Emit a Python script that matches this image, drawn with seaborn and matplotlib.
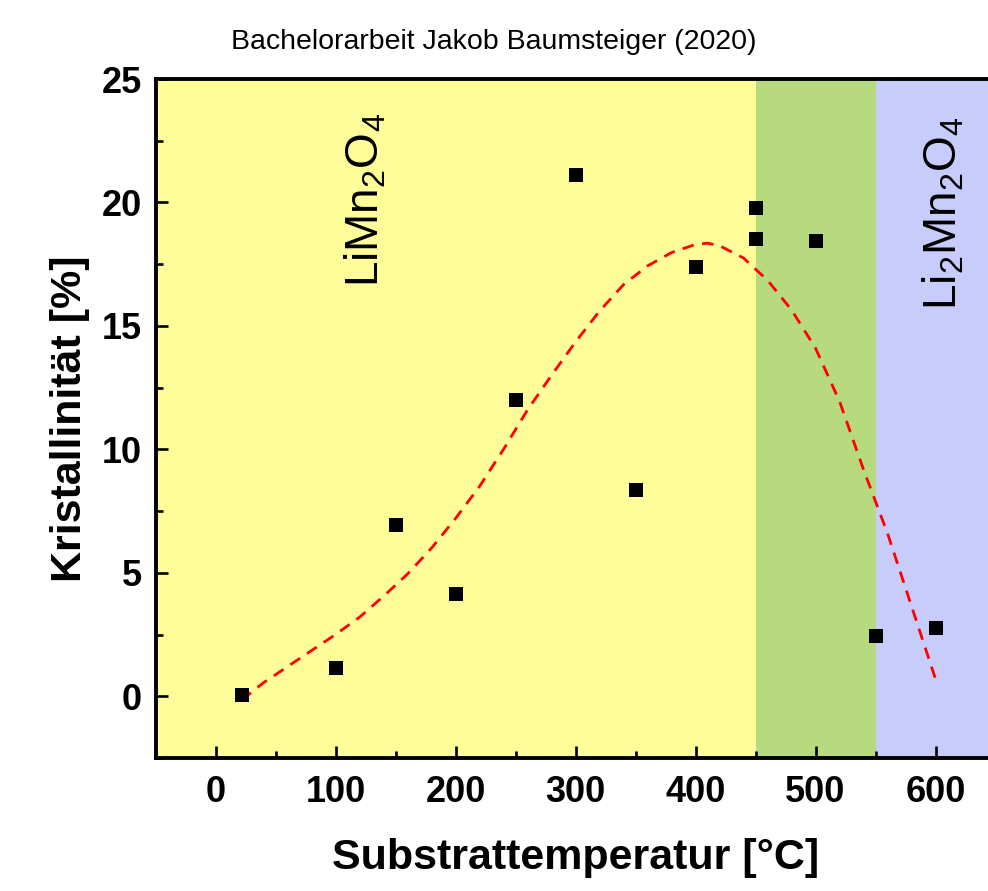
import numpy as np
import pandas as pd
import matplotlib
matplotlib.use('Agg')
import matplotlib.pyplot as plt
import seaborn as sns

# measured points
temperatur = [22, 100, 150, 200, 250, 300, 350, 400, 450, 450, 500, 550, 600]
kristallinitaet = [0.04, 1.15, 6.95, 4.13, 11.98, 21.12, 8.37, 17.4, 19.76, 18.52, 18.43, 2.45, 2.75]

# fit curve
fit_x = [22, 40, 60, 80, 100, 120, 140, 160, 180, 200, 220, 240, 260, 280, 300,
         320, 340, 360, 380, 400, 410, 420, 440, 460, 480, 500, 520, 540, 560, 580, 600]
fit_y = [-0.15, 0.55, 1.2, 1.85, 2.5, 3.2, 4.05, 4.95, 6.0, 7.2, 8.5, 10.0, 11.6, 13.0, 14.35,
         15.6, 16.67, 17.43, 17.97, 18.3, 18.35, 18.25, 17.75, 16.85, 15.65, 14.1, 11.95, 9.18, 6.6, 3.65, 0.7]

# phase regions
phase_grenzen = [-50, 450, 550, 650]
phase_farben = ['#FEFD99', '#B8DA7F', '#C8CCFA']

df = pd.DataFrame({'T': temperatur, 'K': kristallinitaet})
df_fit = pd.DataFrame({'T': fit_x, 'K': fit_y})

sns.set_style('ticks')
plt.rcParams['font.family'] = ['Liberation Sans', 'DejaVu Sans']
plt.rcParams['mathtext.default'] = 'regular'
plt.rcParams['text.color'] = 'black'
plt.rcParams['axes.labelcolor'] = 'black'
plt.rcParams['xtick.color'] = 'black'
plt.rcParams['ytick.color'] = 'black'

fig = plt.figure(figsize=(9.88, 8.91), dpi=100)
ax = fig.add_axes([0.1574, 0.1493, 0.8502, 0.7620])

for i in range(len(phase_farben)):
    ax.axvspan(phase_grenzen[i], phase_grenzen[i + 1], color=phase_farben[i], lw=0, zorder=0)

sns.lineplot(data=df_fit, x='T', y='K', ax=ax, color='#FF0000', lw=2.0,
             linestyle=(0, (4.2, 3.0)), zorder=2)
sns.scatterplot(data=df, x='T', y='K', ax=ax, marker='s', s=105, color='black',
                linewidth=0, zorder=3)

ax.set_xlim(-50, 650)
ax.set_ylim(-2.5, 25)
ax.set_xticks([0, 100, 200, 300, 400, 500, 600])
ax.set_xticks(np.arange(-50, 651, 50), minor=True)
ax.set_yticks([0, 5, 10, 15, 20, 25])
ax.set_yticks(np.arange(-2.5, 25.1, 2.5), minor=True)

ax.tick_params(which='both', direction='in', width=1.9, top=False, right=False)
ax.tick_params(which='major', length=8.6)
ax.tick_params(which='minor', length=5)
ax.tick_params(axis='x', which='major', pad=12, labelsize=26)
ax.tick_params(axis='y', which='major', pad=10, labelsize=26)
for lab in ax.get_xticklabels() + ax.get_yticklabels():
    lab.set_fontweight('bold')

for sp in ax.spines.values():
    sp.set_linewidth(2.8)
    sp.set_color('black')

ax.set_xlabel('Substrattemperatur [°C]', fontsize=31, fontweight='bold')
ax.set_ylabel('Kristallinität [%]', fontsize=31, fontweight='bold')
ax.xaxis.set_label_coords(0.5, -0.118)
ax.yaxis.set_label_coords(-0.078, 0.5)

ax.text(125, 20.1, 'LiMn$_2$O$_4$', rotation=90, fontsize=33, ha='center', va='center')
ax.text(607, 19.55, 'Li$_2$Mn$_2$O$_4$', rotation=90, fontsize=33, ha='center', va='center')

fig.text(0.5, 0.953, 'Bachelorarbeit Jakob Baumsteiger (2020)', fontsize=20.5,
         ha='center', va='center')

fig.savefig('out.png', dpi=100)
